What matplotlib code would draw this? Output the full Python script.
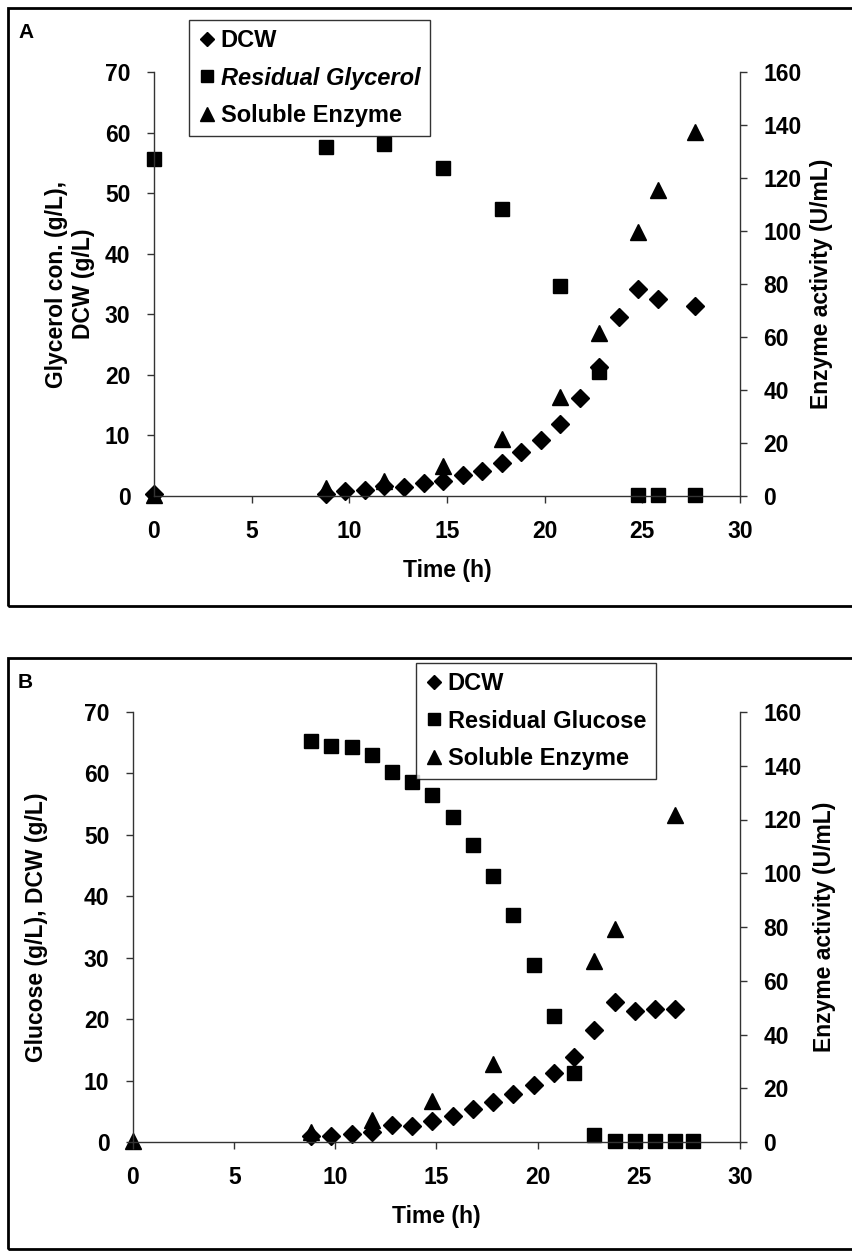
import matplotlib
matplotlib.use("Agg")
import matplotlib.pyplot as plt
from matplotlib.lines import Line2D
from matplotlib.patches import Rectangle

plt.rcParams['font.family'] = ['Liberation Sans', 'DejaVu Sans']
plt.rcParams['font.weight'] = 'bold'

# ---------------- Panel A data ----------------
a_dcw_t = [0, 8.8, 9.8, 10.8, 11.8, 12.8, 13.8, 14.8, 15.8, 16.8, 17.8, 18.8, 19.8,
           20.8, 21.8, 22.8, 23.8, 24.8, 25.8, 27.7]
a_dcw = [0.3, 0.4, 0.8, 1.0, 1.7, 1.5, 2.1, 2.5, 3.5, 4.2, 5.4, 7.3, 9.3,
         11.9, 16.1, 21.3, 29.6, 34.1, 32.6, 31.4]
a_gly_t = [0, 8.8, 11.8, 14.8, 17.8, 20.8, 22.8, 24.8, 25.8, 27.7]
a_gly = [55.6, 57.7, 58.1, 54.2, 47.4, 34.7, 20.5, 0.2, 0.2, 0.2]
a_enz_t = [0, 8.8, 11.8, 14.8, 17.8, 20.8, 22.8, 24.8, 25.8, 27.7]
a_enz = [0.5, 3.0, 5.8, 11.5, 21.5, 37.3, 61.5, 99.5, 115.5, 137.5]

# ---------------- Panel B data ----------------
b_dcw_t = [8.8, 9.8, 10.8, 11.8, 12.8, 13.8, 14.8, 15.8, 16.8, 17.8, 18.8, 19.8,
           20.8, 21.8, 22.8, 23.8, 24.8, 25.8, 26.8]
b_dcw = [1.0, 1.0, 1.3, 1.6, 2.7, 2.6, 3.5, 4.3, 5.3, 6.5, 7.8, 9.3,
         11.2, 13.8, 18.2, 22.8, 21.4, 21.6, 21.7]
b_glu_t = [8.8, 9.8, 10.8, 11.8, 12.8, 13.8, 14.8, 15.8, 16.8, 17.8, 18.8, 19.8,
           20.8, 21.8, 22.8, 23.8, 24.8, 25.8, 26.8, 27.7]
b_glu = [65.2, 64.4, 64.3, 63.0, 60.2, 58.6, 56.5, 52.9, 48.3, 43.3, 37.0, 28.8,
         20.5, 11.3, 1.2, 0.1, 0.1, 0.1, 0.1, 0.1]
b_enz_t = [0, 8.8, 11.8, 14.8, 17.8, 22.8, 23.8, 26.8]
b_enz = [0.5, 3.8, 8.3, 15.2, 29.0, 67.5, 79.4, 121.5]

x_ticks = [0, 5, 10, 15, 20, 25, 30]
y_ticks = [0, 10, 20, 30, 40, 50, 60, 70]
y2_ticks = [0, 20, 40, 60, 80, 100, 120, 140, 160]

W, H = 853, 1251
fig = plt.figure(figsize=(W / 100, H / 100), dpi=100)


def fr(x0, y0, x1, y1):
    return [x0 / W, 1 - y1 / H, (x1 - x0) / W, (y1 - y0) / H]


FS = 16.5
LFS = 17
MS_D, MS_S, MS_T = 9.5, 10, 11


def panel(rect, frame, letter, dcw_t, dcw, sub_t, sub, enz_t, enz,
          sub_name, sub_italic, ylabel, ylab_x, leg_xy):
    # frame
    fig.add_artist(Rectangle((frame[0] / W, 1 - frame[3] / H),
                             (frame[2] - frame[0]) / W, (frame[3] - frame[1]) / H,
                             transform=fig.transFigure, fill=False,
                             edgecolor='black', lw=2))
    fig.text((frame[0] + 10) / W, 1 - (frame[1] + 24) / H, letter,
             fontsize=15, fontweight='bold', ha='left', va='center')
    ax = fig.add_axes(rect)
    ax2 = ax.twinx()
    ax.set_zorder(ax2.get_zorder() + 1)
    ax.patch.set_visible(False)

    ax.plot(sub_t, sub, linestyle='none', marker='s', ms=MS_S, color='black',
            clip_on=False)
    ax.plot(dcw_t, dcw, linestyle='none', marker='D', ms=MS_D, color='black',
            clip_on=False)
    ax2.plot(enz_t, enz, linestyle='none', marker='^', ms=MS_T, color='black',
             clip_on=False)

    ax.set_xlim(0, 30)
    ax.set_ylim(0, 70)
    ax2.set_ylim(0, 160)
    ax.set_xticks(x_ticks)
    ax.set_yticks(y_ticks)
    ax2.set_yticks(y2_ticks)
    for a in (ax, ax2):
        a.spines['top'].set_visible(False)
        for s in a.spines.values():
            s.set_color('#333333')
            s.set_linewidth(1)
        a.tick_params(direction='out', length=5, width=1, color='#333333',
                      labelsize=FS)
    ax2.spines['left'].set_visible(False)
    ax2.spines['bottom'].set_visible(False)
    ax.spines['right'].set_visible(False)
    ax.tick_params(axis='x', pad=12)
    ax.tick_params(axis='y', pad=12)
    ax2.tick_params(axis='y', pad=12)
    for lab in ax.get_xticklabels() + ax.get_yticklabels() + ax2.get_yticklabels():
        lab.set_fontweight('bold')

    ax.set_xlabel('Time (h)', fontsize=FS, fontweight='bold', labelpad=12)
    ax.set_ylabel(ylabel, fontsize=FS, fontweight='bold', linespacing=1.25)
    ax.yaxis.set_label_coords(ylab_x, 0.5)
    ax2.set_ylabel('Enzyme activity (U/mL)', fontsize=FS, fontweight='bold')
    ax2.yaxis.set_label_coords(1.12, 0.5)

    handles = [
        Line2D([], [], linestyle='none', marker='D', ms=MS_D * 0.8, color='black'),
        Line2D([], [], linestyle='none', marker='s', ms=MS_S * 0.9, color='black'),
        Line2D([], [], linestyle='none', marker='^', ms=MS_T * 0.9, color='black'),
    ]
    leg = fig.legend(handles, ['DCW', sub_name, 'Soluble Enzyme'],
                     loc='upper left',
                     bbox_to_anchor=(leg_xy[0] / W, 1 - leg_xy[1] / H),
                     bbox_transform=fig.transFigure,
                     frameon=True, fancybox=False, shadow=False,
                     prop={'size': LFS, 'weight': 'bold'},
                     handlelength=0.7, handletextpad=0.25, labelspacing=0.6,
                     borderpad=0.4, borderaxespad=0)
    leg.get_frame().set_edgecolor('black')
    leg.get_frame().set_linewidth(1)
    if sub_italic:
        leg.get_texts()[1].set_fontstyle('italic')
    return ax, ax2


panel(fr(154, 72, 740, 496), (8, 8, 860, 606), 'A',
      a_dcw_t, a_dcw, a_gly_t, a_gly, a_enz_t, a_enz,
      'Residual Glycerol', True,
      'Glycerol con. (g/L),\nDCW (g/L)', -0.10, (189, 20))

panel(fr(133, 712, 740, 1142), (8, 658, 860, 1249), 'B',
      b_dcw_t, b_dcw, b_glu_t, b_glu, b_enz_t, b_enz,
      'Residual Glucose', False,
      'Glucose (g/L), DCW (g/L)', -0.14, (416, 663))

fig.savefig('out.png', dpi=100)
